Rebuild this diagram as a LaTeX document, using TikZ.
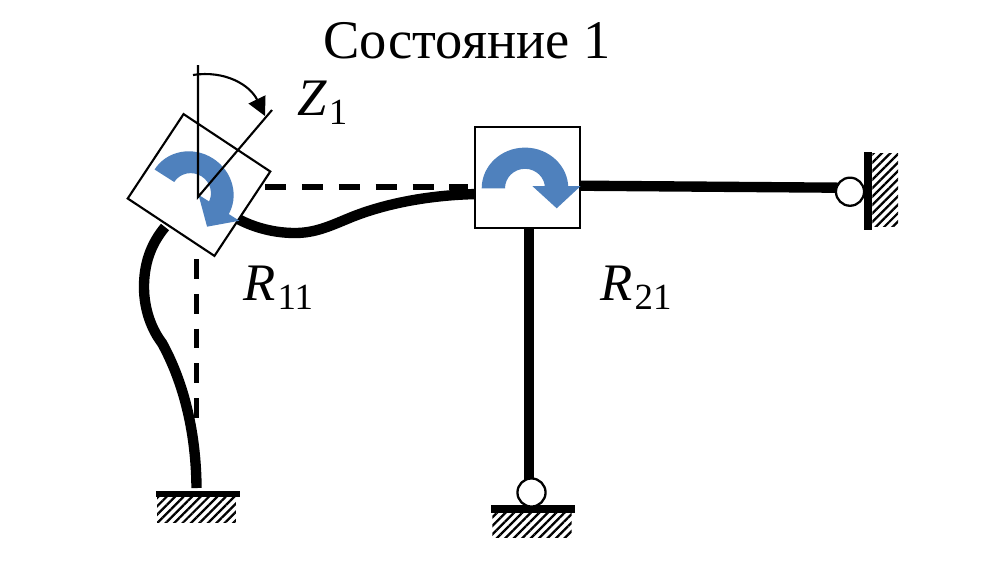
\documentclass[tikz,border=0pt]{standalone}
\usepackage{fontspec}
\setmainfont{Liberation Serif}
\usetikzlibrary{arrows.meta,patterns.meta}
\definecolor{arrowblue}{RGB}{79,129,189}
\tikzset{
    beam/.style={line width=5.9pt},
    dashh/.style={line width=3pt,dash pattern=on 12pt off 9pt},
    dashv/.style={line width=3pt,dash pattern=on 11.3pt off 8.5pt},
    thinline/.style={line width=1.2pt},
    blockbox/.style={draw,fill=white,line width=1.2pt,inner sep=0pt},
    hinge/.style={circle,draw,fill=white,line width=1.3pt,inner sep=0pt,minimum size=16pt},
    wallbar/.style={fill=black,inner sep=0pt},
    hatchbox/.style={pattern={Lines[angle=45,distance=3.4pt,line width=1.3pt]},inner sep=0pt},
    lbl/.style={font=\fontsize{30}{32}\selectfont,inner sep=0pt}
}
\newcommand{\turnarrow}{%
    \fill[arrowblue] (-45.8,10.8) arc[start angle=180,end angle=360,x radius=43.3,y radius=40.7]
        -- (40.8,8.5) -- (53.2,8.5) -- (29.2,30.8) -- (4.8,8.5) -- (17.5,8.5) -- (17.5,10.8)
        arc[start angle=360,end angle=180,x radius=20,y radius=19.5] -- cycle;}
\newcommand{\sublbl}[2]{{\itshape #1}\hspace{1.2pt}\raisebox{-5.5pt}{\fontsize{21}{23}\selectfont #2}}
\begin{document}
\begin{tikzpicture}[x=0.02cm,y=-0.02cm]
    \useasboundingbox (0,0) rectangle (993,562);
    % Опоры
    \node[hatchbox,minimum width=44.8pt,minimum height=14.7pt] (hatchA) at (196.5,510) {};
    \node[wallbar,minimum width=47.6pt,minimum height=3.8pt] (barA) at (198,494) {};
    \node[hatchbox,minimum width=45.2pt,minimum height=14pt] (hatchB) at (532,525) {};
    \node[wallbar,minimum width=48pt,minimum height=4.4pt] (barB) at (533.3,508.8) {};
    \node[hatchbox,minimum width=14.7pt,minimum height=42pt] (hatchC) at (885.3,190) {};
    \node[wallbar,minimum width=4.7pt,minimum height=44.8pt] (barC) at (868,191) {};
    % Узлы
    \coordinate (colTop) at (165,227);
    \coordinate (colEnd) at (196.5,488);
    \coordinate (beamStart) at (238,219);
    \coordinate (beamEnd) at (478,194);
    \coordinate (eastB) at (580,185.7);
    \coordinate (westC) at (840,187.7);
    \coordinate (southB) at (528.7,228);
    \coordinate (northB) at (528.7,482);
    \coordinate (dashA) at (265,187);
    \coordinate (dashB) at (468,187);
    \coordinate (dashC) at (196.7,259);
    \coordinate (dashD) at (196.7,418);
    % Пунктир
    \draw[dashh] (dashA) -- (dashB);
    \draw[dashv] (dashC) -- (dashD);
    % Упругая линия
    \draw[beam] (colTop) .. controls (150,245) and (144,265) .. (144,287)
        .. controls (144,310) and (152,330) .. (162,343)
        .. controls (178,372) and (196,420) .. (colEnd);
    \draw[beam] (beamStart) .. controls (255,228) and (275,233) .. (295,233)
        .. controls (315,233) and (330,226) .. (347,219)
        .. controls (380,205) and (425,195) .. (beamEnd);
    \draw[beam] (eastB) -- (westC);
    \draw[beam] (southB) -- (northB);
    \node[hinge] (hingeB) at (531.5,492.5) {};
    \node[hinge] (hingeC) at (850,191.7) {};
    % Блоки
    \node[blockbox,rotate=-33.5,minimum width=59.2pt,minimum height=57.6pt] (nodeA) at (199,185) {};
    \node[blockbox,minimum width=59.5pt,minimum height=57.5pt] (nodeB) at (527.5,177.5) {};
    % Стрелки поворота
    \begin{scope}[shift={(527.5,177.5)}]
        \turnarrow
    \end{scope}
    \begin{scope}[shift={(199,185)},rotate=-32.5]
        \turnarrow
    \end{scope}
    % Угол
    \coordinate (axisO) at (198,197);
    \coordinate (axisV) at (198,65);
    \coordinate (axisZ) at (272,110);
    \coordinate (angA) at (193,75);
    \coordinate (angB) at (265,116);
    \draw[thinline] (axisV) -- (axisO) -- (axisZ);
    \draw[thinline,-{Triangle[length=10.5pt,width=10.5pt]}] (angA) .. controls (225,70) and (250,85) .. (angB);
    % Подписи
    \node[font=\fontsize{31}{33}\selectfont,inner sep=0pt,anchor=base] (title) at (467,58) {Состояние 1};
    \node[lbl,anchor=base west] (labZ) at (297,115) {\sublbl{Z}{1}};
    \node[lbl,anchor=base west] (labA) at (243,300) {\sublbl{R}{11}};
    \node[lbl,anchor=base west] (labB) at (600,300) {\sublbl{R}{21}};
\end{tikzpicture}
\end{document}
